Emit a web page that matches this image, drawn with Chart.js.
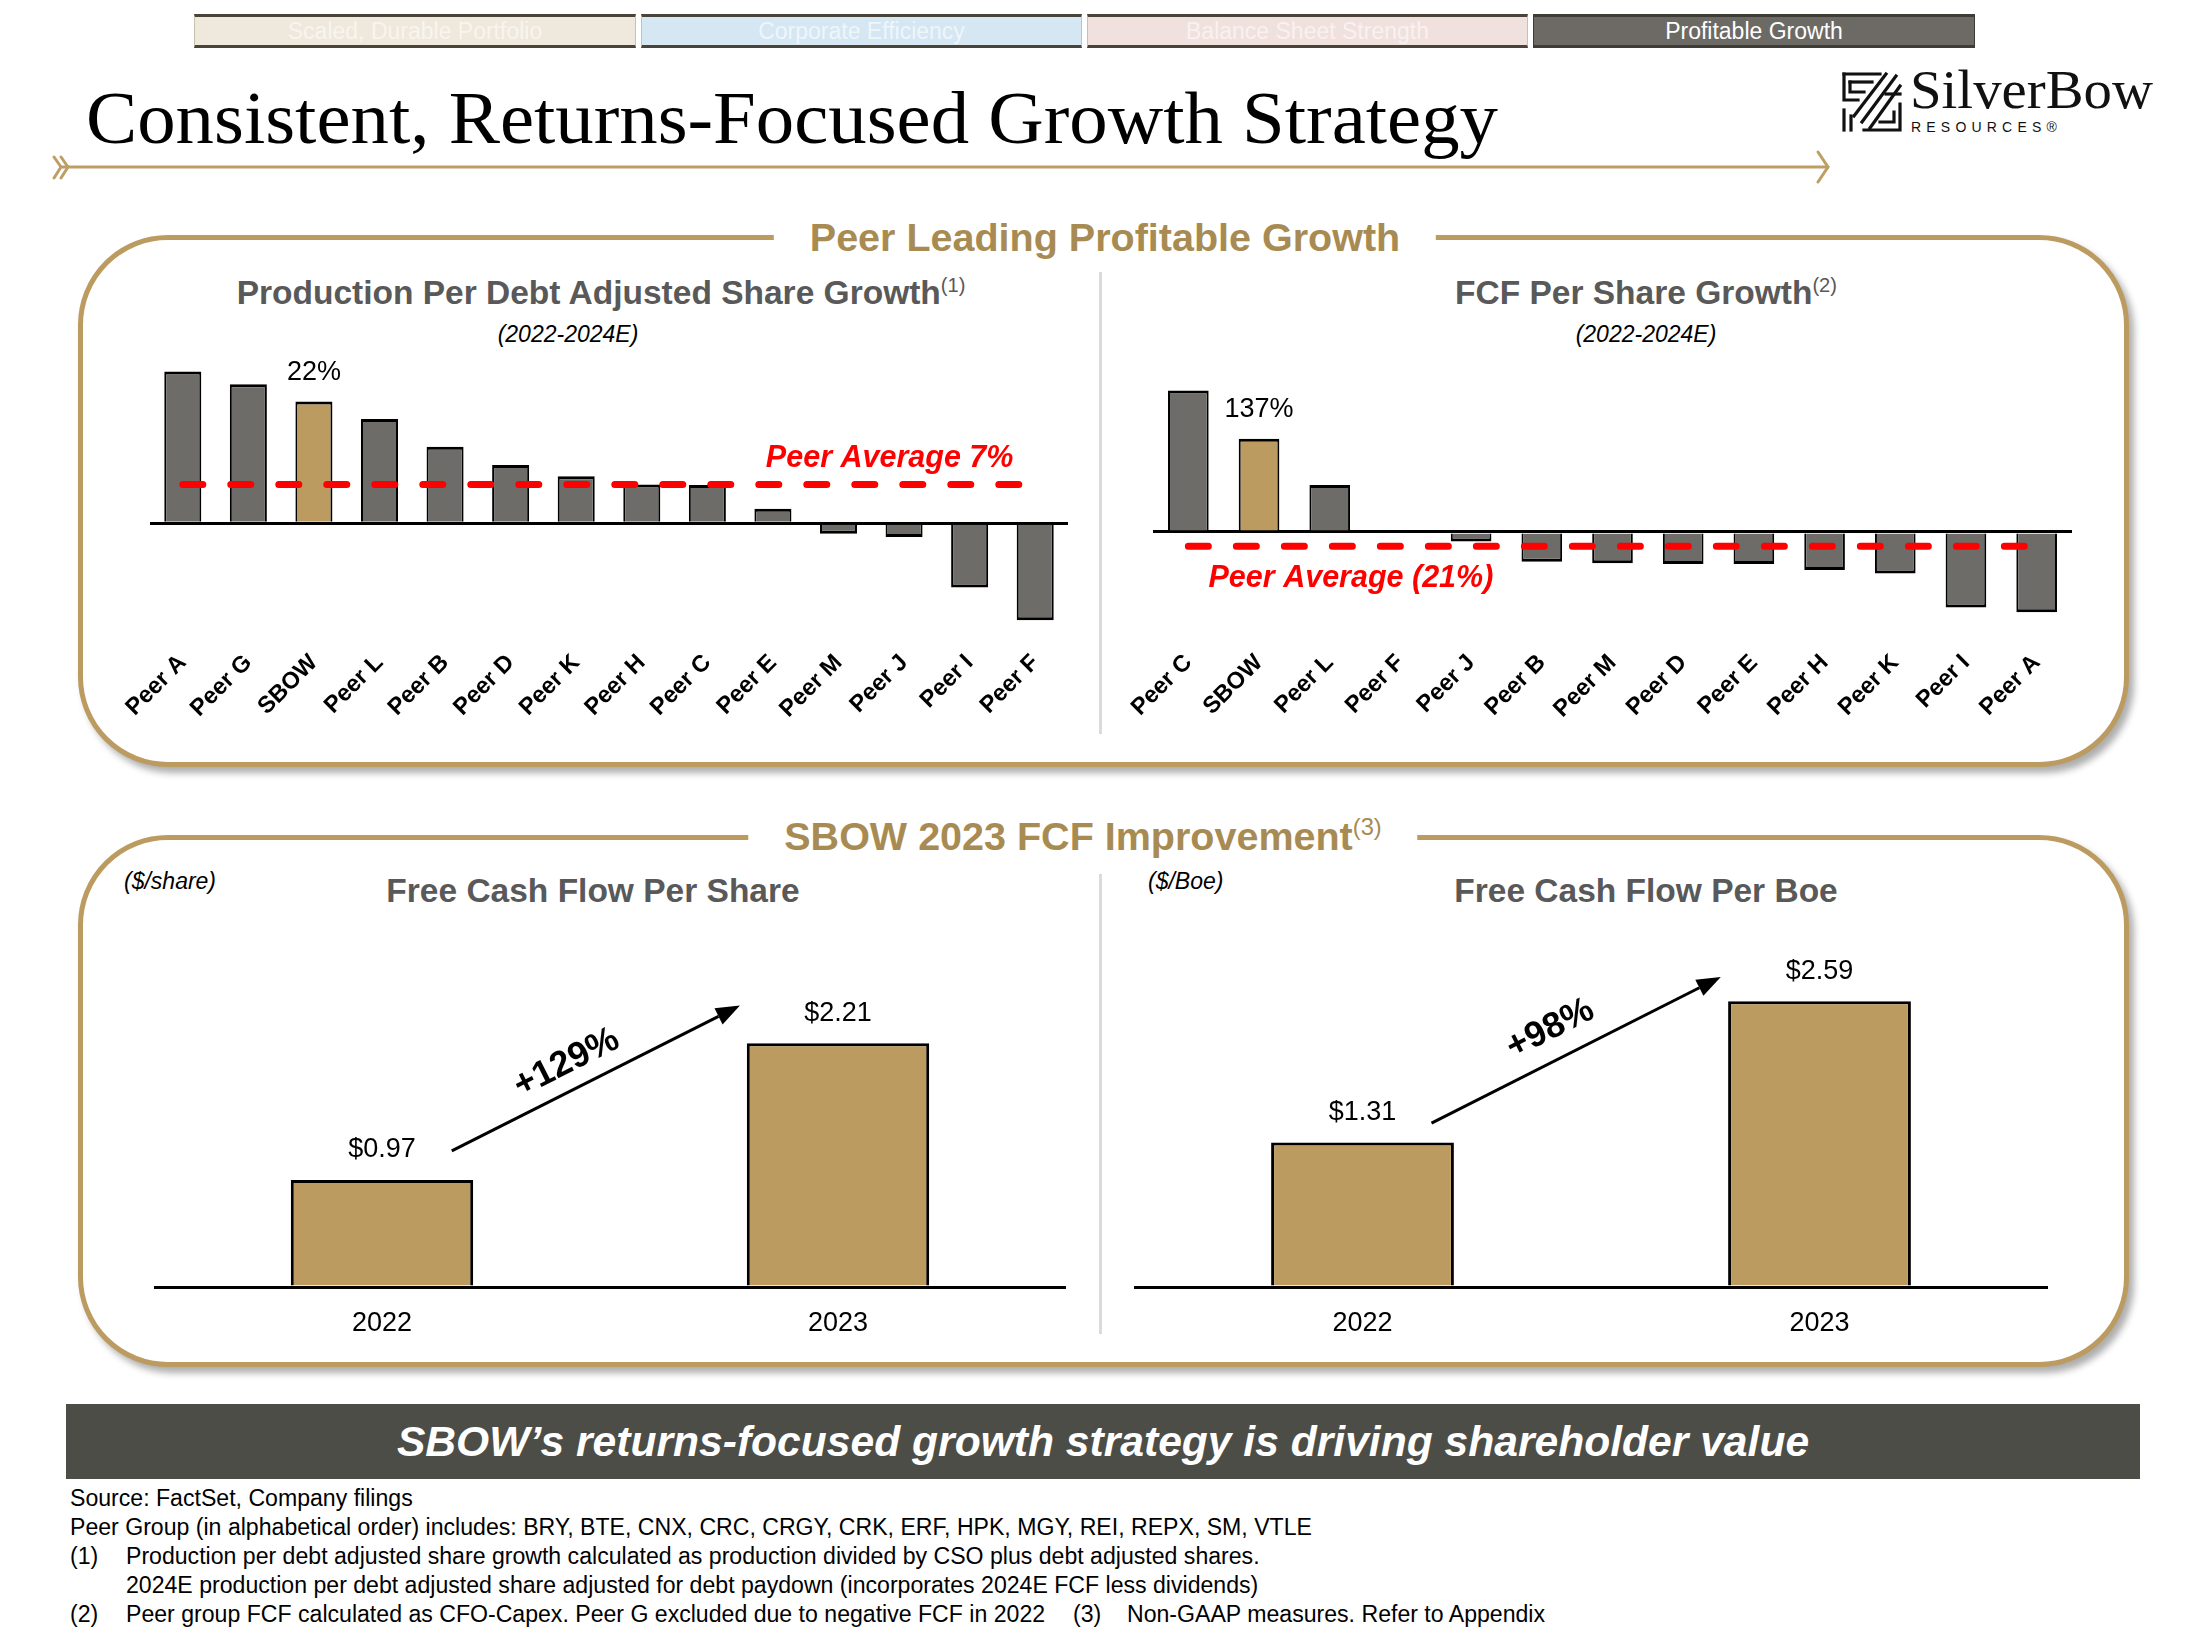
<!DOCTYPE html>
<html>
<head>
<meta charset="utf-8">
<script src="https://cdn.jsdelivr.net/npm/chart.js@4.4.0/dist/chart.umd.min.js"></script>
<style>
html,body{margin:0;padding:0;background:#fff;}
body{width:2200px;height:1643px;position:relative;overflow:hidden;font-family:"Liberation Sans",Arial,sans-serif;}
.nav{position:absolute;top:14px;height:34px;box-sizing:border-box;border-top:3px solid #4a4438;border-bottom:3px solid #4a4438;border-left:1px solid #c9c0b0;border-right:1px solid #c9c0b0;font-size:23px;text-align:center;line-height:28px;white-space:nowrap;}
.panel{position:absolute;left:78px;width:2051px;height:532px;box-sizing:border-box;border:5px solid #BC9B60;border-radius:90px;box-shadow:5px 6px 7px rgba(0,0,0,0.32);background:#fff;}
.ptitle{position:absolute;transform:translateX(-50%);background:#fff;padding:0 36px;font-weight:bold;font-size:39.5px;color:#A88B52;line-height:46px;height:46px;white-space:nowrap;z-index:3;}
.ctitle{position:absolute;transform:translateX(-50%);font-weight:bold;font-size:33.5px;color:#595959;line-height:40px;height:40px;white-space:nowrap;z-index:3;}
.sup{font-size:0.6em;font-weight:normal;position:relative;top:-0.62em;vertical-align:baseline;line-height:0;}
.sub{position:absolute;transform:translateX(-50%);font-style:italic;font-size:23px;color:#000;line-height:30px;white-space:nowrap;z-index:3;}
.unit{position:absolute;font-style:italic;font-size:23px;color:#000;line-height:30px;white-space:nowrap;z-index:3;}
.divider{position:absolute;left:1099px;width:3px;background:#DADADA;z-index:2;}
canvas{position:absolute;z-index:4;}
.fn{position:absolute;font-size:23.1px;line-height:29px;color:#000;white-space:nowrap;}
</style>
</head>
<body>

<!-- navigation tabs -->
<div class="nav" style="left:194px;width:442px;background:#EFE8DC;color:#F8F5EF;">Scaled, Durable Portfolio</div>
<div class="nav" style="left:641px;width:441px;background:#D4E7F2;color:#EEF6FA;">Corporate Efficiency</div>
<div class="nav" style="left:1087px;width:441px;background:#F0E1DE;color:#F9F1EF;">Balance Sheet Strength</div>
<div class="nav" style="left:1533px;width:442px;background:#6C6A65;color:#fff;border-color:#3f3c36;">Profitable Growth</div>

<!-- main title -->
<div id="mainTitle" style="position:absolute;left:86px;top:82px;font-family:'Liberation Serif','DejaVu Serif',serif;font-size:73px;line-height:73px;color:#000;white-space:nowrap;transform-origin:0 0;">Consistent, Returns-Focused Growth Strategy</div>

<!-- gold arrow rule -->
<svg style="position:absolute;left:0;top:140px;" width="1900" height="60">
  <g stroke="#BE9E64" stroke-width="3" fill="none" stroke-linecap="round" stroke-linejoin="round">
    <line x1="62" y1="27" x2="1828" y2="27"/>
    <polyline points="54,17 61,27 54,38"/>
    <polyline points="61,17 68,27 61,38"/>
    <polyline points="1818,12 1828,27 1818,42"/>
  </g>
</svg>

<!-- logo -->
<svg style="position:absolute;left:1840px;top:70px;" width="64" height="64" viewBox="0 0 64 64">
  <g stroke="#111" stroke-width="3.2" fill="none" stroke-linecap="square">
    <polyline points="4,4 40,4"/>
    <polyline points="4,4 4,30 18,30"/>
    <polyline points="10,12 32,12"/>
    <polyline points="10,12 10,22 24,22"/>
    <line x1="46" y1="4" x2="14" y2="46"/>
    <line x1="56" y1="6" x2="22" y2="52"/>
    <line x1="60" y1="16" x2="30" y2="58"/>
    <polyline points="60,34 60,60 24,60"/>
    <polyline points="54,42 54,52 40,52"/>
    <polyline points="4,40 4,60"/>
    <polyline points="11,46 11,60"/>
    <polyline points="60,24 46,24"/>
  </g>
</svg>
<div id="logoText" style="position:absolute;left:1910px;top:60px;font-family:'Liberation Serif',serif;font-size:54px;line-height:60px;color:#111;white-space:nowrap;transform-origin:0 0;">SilverBow</div>
<div style="position:absolute;left:1911px;top:118px;font-size:14px;line-height:18px;letter-spacing:5.2px;color:#111;white-space:nowrap;">RESOURCES®</div>

<!-- Panel 1 -->
<div class="panel" style="top:235px;"></div>
<div class="ptitle" style="left:1105px;top:214px;">Peer Leading Profitable Growth</div>
<div class="divider" style="top:272px;height:462px;"></div>
<div class="ctitle" style="left:601px;top:273px;">Production Per Debt Adjusted Share Growth<span class="sup">(1)</span></div>
<div class="sub" style="left:568px;top:319px;">(2022-2024E)</div>
<div class="ctitle" style="left:1646px;top:273px;">FCF Per Share Growth<span class="sup">(2)</span></div>
<div class="sub" style="left:1646px;top:319px;">(2022-2024E)</div>

<!-- Panel 2 -->
<div class="panel" style="top:835px;"></div>
<div class="ptitle" style="left:1083px;top:813px;">SBOW 2023 FCF Improvement<span class="sup">(3)</span></div>
<div class="divider" style="top:874px;height:460px;"></div>
<div class="ctitle" style="left:593px;top:871px;">Free Cash Flow Per Share</div>
<div class="unit" style="left:124px;top:866px;">($/share)</div>
<div class="ctitle" style="left:1646px;top:871px;">Free Cash Flow Per Boe</div>
<div class="unit" style="left:1148px;top:866px;">($/Boe)</div>

<canvas id="c1" width="990" height="430" style="left:100px;top:340px;"></canvas>
<canvas id="c2" width="1000" height="430" style="left:1110px;top:340px;"></canvas>
<canvas id="c3" width="980" height="460" style="left:110px;top:900px;"></canvas>
<canvas id="c4" width="980" height="460" style="left:1110px;top:900px;"></canvas>

<!-- banner -->
<div style="position:absolute;left:66px;top:1404px;width:2074px;height:75px;background:#4C4D47;color:#fff;font-weight:bold;font-style:italic;font-size:42.6px;line-height:75px;text-align:center;white-space:nowrap;">SBOW’s returns-focused growth strategy is driving shareholder value</div>

<!-- footnotes -->
<div class="fn" style="left:70px;top:1484px;">Source: FactSet, Company filings</div>
<div class="fn" style="left:70px;top:1513px;">Peer Group (in alphabetical order) includes: BRY, BTE, CNX, CRC, CRGY, CRK, ERF, HPK, MGY, REI, REPX, SM, VTLE</div>
<div class="fn" style="left:70px;top:1542px;">(1)</div>
<div class="fn" style="left:126px;top:1542px;">Production per debt adjusted share growth calculated as production divided by CSO plus debt adjusted shares.</div>
<div class="fn" style="left:126px;top:1571px;">2024E production per debt adjusted share adjusted for debt paydown (incorporates 2024E FCF less dividends)</div>
<div class="fn" style="left:70px;top:1600px;">(2)</div>
<div class="fn" style="left:126px;top:1600px;">Peer group FCF calculated as CFO-Capex. Peer G excluded due to negative FCF in 2022</div>
<div class="fn" style="left:1073px;top:1600px;">(3)</div>
<div class="fn" style="left:1127px;top:1600px;">Non-GAAP measures. Refer to Appendix</div>

<script>
// ---------------- DATA ----------------
const prodCategories = ['Peer A','Peer G','SBOW','Peer L','Peer B','Peer D','Peer K','Peer H','Peer C','Peer E','Peer M','Peer J','Peer I','Peer F'];
const prodGrowth = [27.4, 25.1, 22, 18.8, 13.8, 10.5, 8.5, 7.0, 6.9, 2.6, -1.9, -2.5, -11.6, -17.5];
const prodPeerAvg = 7;
const prodSbowLabel = '22%';
const prodAvgLabel = 'Peer Average 7%';

const fcfCategories = ['Peer C','SBOW','Peer L','Peer F','Peer J','Peer B','Peer M','Peer D','Peer E','Peer H','Peer K','Peer I','Peer A'];
const fcfGrowth = [208, 137, 69, 2, -14, -44, -46, -47, -47, -56, -61, -111, -118];
const fcfPeerAvg = -21;
const fcfSbowLabel = '137%';
const fcfAvgLabel = 'Peer Average (21%)';

const years = ['2022', '2023'];
const fcfPerShare = [0.97, 2.21];
const fcfPerShareLabels = ['$0.97', '$2.21'];
const fcfPerShareChange = '+129%';
const fcfPerBoe = [1.31, 2.59];
const fcfPerBoeLabels = ['$1.31', '$2.59'];
const fcfPerBoeChange = '+98%';

// ---------------- STYLE ----------------
const GRAY = '#6E6C68';
const GOLD = '#BC9B60';
const RED = '#FF0000';
const FONT = '"Liberation Sans", Arial, sans-serif';

function fitWidth(id, target){
  const el = document.getElementById(id);
  const w = el.getBoundingClientRect().width;
  el.style.transform = 'scaleX(' + (target / w) + ')';
}
fitWidth('mainTitle', 1412);
fitWidth('logoText', 243);

const annotPlugin = {
  id: 'annot',
  afterDatasetsDraw(chart, args, opts) {
    const ctx = chart.ctx;
    const xs = chart.scales.x, ys = chart.scales.y;
    (opts.items || []).forEach(it => {
      ctx.save();
      ctx.fillStyle = it.color || '#000';
      ctx.strokeStyle = it.color || '#000';
      if (it.type === 'hline') {
        const y = ys.getPixelForValue(it.y);
        ctx.lineWidth = it.width;
        ctx.lineCap = 'round';
        ctx.setLineDash(it.dash);
        ctx.beginPath();
        ctx.moveTo(xs.getPixelForValue(it.x0), y);
        ctx.lineTo(xs.getPixelForValue(it.x1), y);
        ctx.stroke();
      } else if (it.type === 'barLabel') {
        const el = chart.getDatasetMeta(it.dataset).data[it.index];
        ctx.font = it.font;
        ctx.textAlign = 'center';
        ctx.textBaseline = 'middle';
        ctx.fillText(it.text, el.x, el.y - it.offset);
      } else if (it.type === 'text') {
        const x = xs.getPixelForValue(it.x), y = ys.getPixelForValue(it.y);
        ctx.translate(x, y);
        if (it.arrow) {
          const a = it.arrow;
          const ang = Math.atan2(ys.getPixelForValue(a.y1) - ys.getPixelForValue(a.y0), xs.getPixelForValue(a.x1) - xs.getPixelForValue(a.x0));
          ctx.rotate(ang);
        }
        ctx.font = it.font;
        ctx.textAlign = 'center';
        ctx.textBaseline = 'middle';
        ctx.fillText(it.text, 0, 0);
      } else if (it.type === 'arrow') {
        const x0 = xs.getPixelForValue(it.x0), y0 = ys.getPixelForValue(it.y0);
        const x1 = xs.getPixelForValue(it.x1), y1 = ys.getPixelForValue(it.y1);
        const ang = Math.atan2(y1 - y0, x1 - x0);
        const hl = 24, hw = 9;
        const bx = x1 - hl * Math.cos(ang), by = y1 - hl * Math.sin(ang);
        ctx.lineWidth = 3;
        ctx.beginPath(); ctx.moveTo(x0, y0); ctx.lineTo(bx, by); ctx.stroke();
        ctx.beginPath();
        ctx.moveTo(x1, y1);
        ctx.lineTo(bx - hw * Math.sin(ang), by + hw * Math.cos(ang));
        ctx.lineTo(bx + hw * Math.sin(ang), by - hw * Math.cos(ang));
        ctx.closePath(); ctx.fill();
      }
      ctx.restore();
    });
  }
};

function zeroGrid() {
  return {
    drawTicks: false,
    color: c => (c.tick && c.tick.value === 0) ? '#000' : 'rgba(0,0,0,0)',
    lineWidth: 3
  };
}

function peerChart(id, cats, vals, avg, sbowIdx, yMin, yMax, step, lineEnd, pad, barPct, sbowText, avgText, avgPos) {
  new Chart(document.getElementById(id), {
    type: 'bar',
    data: {
      labels: cats,
      datasets: [{
        data: vals,
        backgroundColor: cats.map((c, i) => i === sbowIdx ? GOLD : GRAY),
        borderColor: '#000',
        borderWidth: {top: 3, bottom: 3, left: 2, right: 2},
        barPercentage: barPct, categoryPercentage: 1
      }]
    },
    options: {
      responsive: false, animation: false,
      layout: {padding: pad},
      plugins: {
        legend: {display: false}, tooltip: {enabled: false},
        annot: {items: [
          {type: 'hline', x0: 0, x1: lineEnd, y: avg, color: RED, width: 7, dash: [20, 28]},
          {type: 'barLabel', dataset: 0, index: sbowIdx, text: sbowText, font: '27px ' + FONT, offset: 29},
          {type: 'text', x: avgPos[0], y: avgPos[1], text: avgText, font: 'italic bold 30.5px ' + FONT, color: RED}
        ]}
      },
      scales: {
        x: {
          type: 'category', offset: true,
          grid: {display: false, drawTicks: false}, border: {display: false},
          ticks: {color: '#000', font: {family: FONT, size: 23.5, weight: 'bold'}, minRotation: 45, maxRotation: 45, autoSkip: false, padding: 15},
          afterFit(s) { s.height = 136; }
        },
        y: {
          min: yMin, max: yMax,
          ticks: {display: false, stepSize: step},
          grid: zeroGrid(), border: {display: false},
          afterFit(s) { s.width = 0; }
        }
      }
    },
    plugins: [annotPlugin]
  });
}

peerChart('c1', prodCategories, prodGrowth, prodPeerAvg, 2, -20, 32, 4, 13.0,
  {left: 50, right: 22, top: 6, bottom: 0}, 0.565, prodSbowLabel, prodAvgLabel, [10.78, 11.6]);
peerChart('c2', fcfCategories, fcfGrowth, fcfPeerAvg, 1, -150, 260, 10, 12.1,
  {left: 43, right: 38, top: 15, bottom: 0}, 0.575, fcfSbowLabel, fcfAvgLabel, [2.30, -68]);

function fcfChart(id, vals, labels, change, pad, arrow, textPos) {
  new Chart(document.getElementById(id), {
    type: 'bar',
    data: {
      labels: years,
      datasets: [{
        data: vals, backgroundColor: GOLD, borderColor: '#000', borderWidth: 3,
        barPercentage: 0.4, categoryPercentage: 1
      }]
    },
    options: {
      responsive: false, animation: false,
      layout: {padding: pad},
      plugins: {
        legend: {display: false}, tooltip: {enabled: false},
        annot: {items: [
          {type: 'barLabel', dataset: 0, index: 0, text: labels[0], font: '27px ' + FONT, offset: 30},
          {type: 'barLabel', dataset: 0, index: 1, text: labels[1], font: '27px ' + FONT, offset: 30},
          Object.assign({type: 'arrow'}, arrow),
          {type: 'text', x: textPos[0], y: textPos[1], text: change, font: 'bold 36px ' + FONT, arrow: arrow}
        ]}
      },
      scales: {
        x: {
          type: 'category', offset: true,
          grid: {display: false, drawTicks: false}, border: {display: false},
          ticks: {color: '#000', font: {family: FONT, size: 27}, padding: 20},
          afterFit(s) { s.height = 73; }
        },
        y: {
          min: 0, max: 3,
          ticks: {display: false, stepSize: 1},
          grid: zeroGrid(), border: {display: false},
          afterFit(s) { s.width = 0; }
        }
      }
    },
    plugins: [annotPlugin]
  });
}

fcfChart('c3', fcfPerShare, fcfPerShareLabels, fcfPerShareChange,
  {left: 44, right: 24, top: 56, bottom: 0},
  {x0: 0.153, y0: 1.233, x1: 0.785, y1: 2.551}, [0.405, 2.03]);
fcfChart('c4', fcfPerBoe, fcfPerBoeLabels, fcfPerBoeChange,
  {left: 24, right: 42, top: 56, bottom: 0},
  {x0: 0.151, y0: 1.486, x1: 0.784, y1: 2.81}, [0.411, 2.34]);
</script>
</body>
</html>
